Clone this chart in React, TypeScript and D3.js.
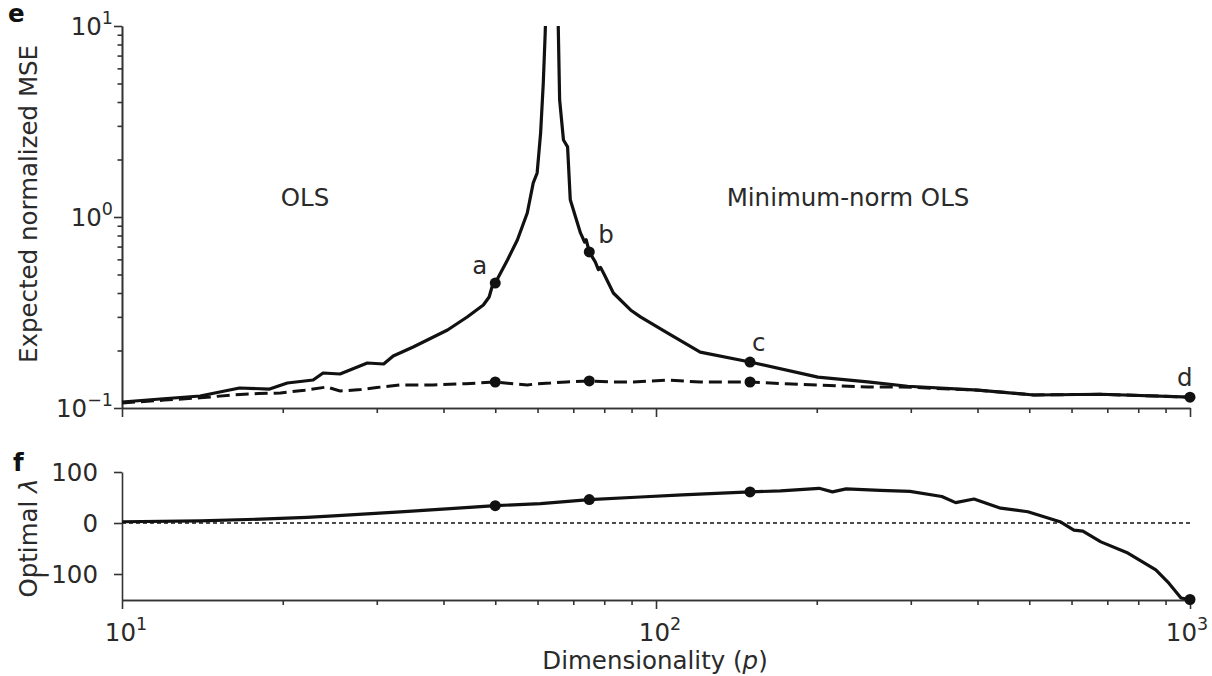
import * as d3 from 'd3'
import React, { useEffect, useRef } from 'react'

// Panel e: expected normalized MSE, plain (minimum-norm) OLS
const mseDims = [10, 11.8, 14, 16.6, 18.9, 20.4, 22.8, 23.8, 25.6, 28.8, 30.9, 32.2, 35.1, 40.7, 44.3, 47.5, 48.7, 49.3, 50, 52.7, 55, 57.4, 58.9, 59.9, 60.8, 61.5, 62, 63,
  65, 66, 67.1, 68.3, 69.1, 72.2, 73.5, 74, 75, 77, 78, 78.7, 80, 83.2, 89.6, 93.5, 105, 121, 150, 201, 249, 296, 401, 510, 681, 1000]
const mseOls = [0.1075, 0.1115, 0.1156, 0.1273, 0.1257, 0.1352, 0.1402, 0.1525, 0.1507, 0.172, 0.170, 0.187, 0.2087, 0.256, 0.2996, 0.346, 0.381, 0.43, 0.451, 0.596, 0.758, 1.05, 1.51, 1.70, 2.75, 5.0, 9, 40,
  40, 4.1, 2.53, 2.33, 1.23, 0.825, 0.74, 0.76, 0.656, 0.58, 0.53, 0.545, 0.50, 0.40, 0.326, 0.300, 0.247, 0.196, 0.174, 0.145, 0.137, 0.130, 0.124, 0.117, 0.118, 0.114]

// Panel e: dashed curve (optimal ridge)
const ridgeDims = [10, 12, 14, 16.1, 18, 19.8, 22, 24.2, 25.6, 28, 30, 33.2, 38.2, 44, 50, 54, 57.4, 60, 63.4, 68, 75, 82, 90.7, 105, 121, 150, 175, 201, 249, 287, 401, 510, 681, 1000]
const mseRidge = [0.1062, 0.110, 0.113, 0.117, 0.119, 0.1198, 0.124, 0.1288, 0.1227, 0.125, 0.128, 0.132, 0.132, 0.134, 0.1368, 0.134, 0.132, 0.134, 0.135, 0.137, 0.1385, 0.137, 0.1368, 0.140, 0.1368, 0.1368, 0.134, 0.132, 0.1288, 0.129, 0.124, 0.117, 0.118, 0.114]

// Panel f: optimal lambda
const lambdaDims = [10, 14, 18.7, 22.2, 24.9, 33.2, 41.2, 50, 60.8, 75, 93.5, 112, 150, 171, 202, 214, 227, 263, 299, 343, 364, 394, 442, 497, 571, 606, 630, 681, 765, 863, 913, 962, 1000]
const lambdaOpt = [2.5, 4, 8, 11, 14, 22, 28, 34, 38, 46, 51, 55, 61, 63, 68, 61, 67, 64, 62, 52, 40, 47, 29, 22, 2.5, -14, -16, -37, -59, -92, -118, -147, -150]

const markedDims = [50, 75, 150, 1000]
const markLetters = ['a', 'b', 'c', 'd']
const xTickExps = [1, 2, 3]
const mseTickExps = [-1, 0, 1]
const lambdaTicks = [100, 0, -100]

const W = 1212
const H = 676
const FONT = 'DejaVu Sans, sans-serif'
const FS = 24.5
const INK = '#111'
const TXT = '#2a2a2a'
const AXIS = '#333'

const App = () => {
  const ref = useRef<SVGSVGElement>(null)

  useEffect(() => {
    const svg = d3.select(ref.current)
    svg.selectAll('*').remove()

    const x = d3.scaleLog().domain([10, 1000]).range([122, 1190])
    const yTop = d3.scaleLog().domain([0.1, 10]).range([408, 26])
    const yBot = d3.scaleLinear().domain([-150, 100]).range([599.5, 472])

    const xMinor = d3.range(2, 10).map(d => d * 10).concat(d3.range(2, 10).map(d => d * 100))
    const yMinor = d3.range(2, 10).map(d => d / 10).concat(d3.range(2, 10).map(d => d))

    const styleAxis = (g) => {
      g.select('.domain').attr('stroke', AXIS).attr('stroke-width', 1.6)
      g.selectAll('.tick line').attr('stroke', AXIS).attr('stroke-width', 1.6)
      g.selectAll('.tick text').remove()
    }

    const addText = (px, py, str, anchor = 'start') =>
      svg.append('text').attr('x', px).attr('y', py).attr('text-anchor', anchor)
        .attr('font-family', FONT).attr('font-size', FS).attr('fill', TXT).text(str)

    // clip for the exploding curve
    svg.append('defs').append('clipPath').attr('id', 'clipTop')
      .append('rect').attr('x', 118).attr('y', 26).attr('width', 1080).attr('height', 390)

    // ---- top panel axes
    const gTopX = svg.append('g').attr('transform', 'translate(0,408)')
    gTopX.call(d3.axisBottom(x).tickValues(xMinor).tickSize(5).tickSizeOuter(0).tickFormat(() => '')).call(styleAxis)
    gTopX.append('g').call(d3.axisBottom(x).tickValues(xTickExps.map(e => 10 ** e)).tickSize(9).tickSizeOuter(0).tickFormat(() => '')).call(styleAxis)

    const gTopY = svg.append('g').attr('transform', 'translate(122,0)')
    gTopY.call(d3.axisLeft(yTop).tickValues(yMinor).tickSize(4.5).tickSizeOuter(0).tickFormat(() => '')).call(styleAxis)
    gTopY.append('g').call(d3.axisLeft(yTop).tickValues(mseTickExps.map(e => 10 ** e)).tickSize(8).tickSizeOuter(0).tickFormat(() => '')).call(styleAxis)

    // power-of-ten labels
    const powLabel = (px, py, exp, anchor) => {
      const t = addText(px, py, null, anchor)
      t.append('tspan').text('10')
      t.append('tspan').attr('dy', -11).attr('font-size', 17.5).text(exp < 0 ? '\u2212' + Math.abs(exp) : String(exp))
    }
    mseTickExps.forEach(e => powLabel(113, yTop(10 ** e) + 9, e, 'end'))

    // ---- top panel curves
    const lineTop = d3.line<number>().x((d, i) => x(mseDims[i])).y(d => yTop(d))
    const lineRidge = d3.line<number>().x((d, i) => x(ridgeDims[i])).y(d => yTop(d))
    const curves = svg.append('g').attr('clip-path', 'url(#clipTop)')
    curves.append('path').attr('d', lineRidge(mseRidge)).attr('fill', 'none')
      .attr('stroke', INK).attr('stroke-width', 3).attr('stroke-dasharray', '13,6')
    curves.append('path').attr('d', lineTop(mseOls)).attr('fill', 'none')
      .attr('stroke', INK).attr('stroke-width', 3.2).attr('stroke-linejoin', 'round')

    markedDims.forEach(p => {
      const v = mseOls[mseDims.indexOf(p)]
      svg.append('circle').attr('cx', x(p)).attr('cy', yTop(v)).attr('r', 5.5).attr('fill', INK)
      const r = ridgeDims.indexOf(p)
      if (p !== 1000) svg.append('circle').attr('cx', x(p)).attr('cy', yTop(mseRidge[r])).attr('r', 5.5).attr('fill', INK)
    })
    const letterPos = [[-23, -9], [9, -9], [2, -11], [-13, -11]]
    markedDims.forEach((p, i) => {
      const v = mseOls[mseDims.indexOf(p)]
      addText(x(p) + letterPos[i][0], yTop(v) + letterPos[i][1], markLetters[i])
    })

    addText(305, 206, 'OLS', 'middle')
    addText(848, 206, 'Minimum-norm OLS', 'middle')

    addText(0, 0, 'Expected normalized MSE', 'middle').attr('transform', 'translate(37,204) rotate(-90)')

    // ---- bottom panel
    svg.append('line').attr('x1', x(10)).attr('x2', x(1000)).attr('y1', yBot(0)).attr('y2', yBot(0))
      .attr('stroke', INK).attr('stroke-width', 1.3).attr('stroke-dasharray', '4,3')

    const gBotX = svg.append('g').attr('transform', 'translate(0,600)')
    gBotX.call(d3.axisBottom(x).tickValues(xMinor).tickSize(5).tickSizeOuter(0).tickFormat(() => '')).call(styleAxis)
    gBotX.append('g').call(d3.axisBottom(x).tickValues(xTickExps.map(e => 10 ** e)).tickSize(9).tickSizeOuter(0).tickFormat(() => '')).call(styleAxis)
    xTickExps.forEach(e => powLabel(x(10 ** e) + (e === 3 ? -3 : 4), 641, e, 'middle'))

    const gBotY = svg.append('g').attr('transform', 'translate(122,0)')
    gBotY.call(d3.axisLeft(yBot).tickValues(lambdaTicks).tickSize(8).tickSizeOuter(0).tickFormat(() => '')).call(styleAxis)
    lambdaTicks.forEach(v => addText(98, yBot(v) + 9, v < 0 ? '\u2212' + Math.abs(v) : String(v), 'end'))

    const lineBot = d3.line<number>().x((d, i) => x(lambdaDims[i])).y(d => yBot(d))
    svg.append('path').attr('d', lineBot(lambdaOpt)).attr('fill', 'none')
      .attr('stroke', INK).attr('stroke-width', 3.2).attr('stroke-linejoin', 'round')
    markedDims.forEach(p => {
      svg.append('circle').attr('cx', x(p)).attr('cy', yBot(lambdaOpt[lambdaDims.indexOf(p)])).attr('r', 5.5).attr('fill', INK)
    })

    const yl = addText(0, 0, null, 'middle').attr('transform', 'translate(37,538) rotate(-90)')
    yl.append('tspan').text('Optimal ')
    yl.append('tspan').attr('font-style', 'italic').text('\u03bb')

    const xl = addText(655, 669, null, 'middle')
    xl.append('tspan').text('Dimensionality (')
    xl.append('tspan').attr('font-style', 'italic').text('p')
    xl.append('tspan').text(')')

    // panel letters
    addText(8, 22, 'e').attr('font-weight', 'bold').attr('fill', INK)
    addText(13, 471, 'f').attr('font-weight', 'bold').attr('fill', INK)
  }, [])

  return <svg ref={ref} width={W} height={H} style={{ position: 'absolute', left: 0, top: 0, background: '#fff' }} />
}

export default App
